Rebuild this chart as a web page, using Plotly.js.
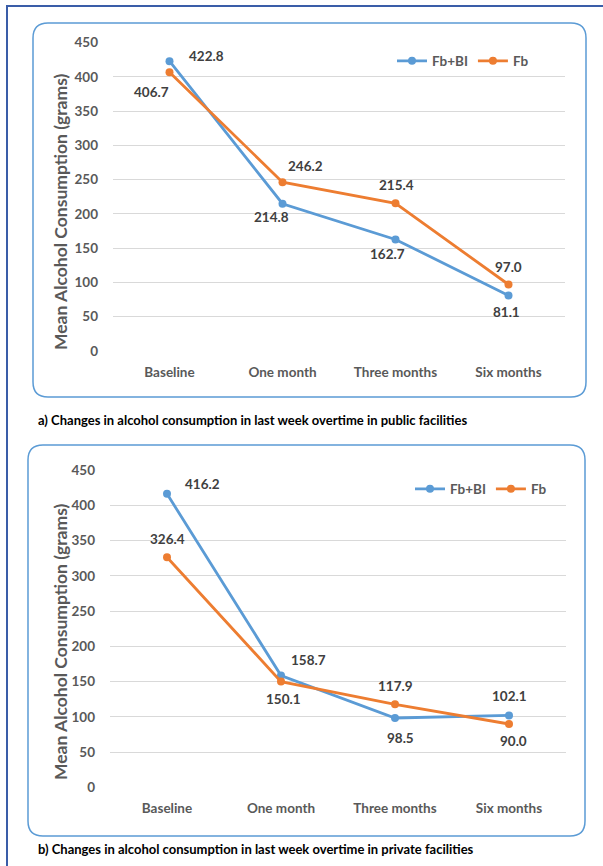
<!DOCTYPE html>
<html>
<head>
<meta charset="utf-8">
<script src="https://cdn.plot.ly/plotly-3.0.1.min.js"></script>
<style>
html,body{margin:0;padding:0;background:#fff;}
#chart{width:603px;height:866px;}
</style>
</head>
<body>
<div id="chart"></div>
<script>
// ---- Data ----
const categories = ['Baseline', 'One month', 'Three months', 'Six months'];
const seriesNames = ['Fb+BI', 'Fb'];
const publicFbBI = [422.8, 214.8, 162.7, 81.1];
const publicFb = [406.7, 246.2, 215.4, 97.0];
const privateFbBI = [416.2, 158.7, 98.5, 102.1];
const privateFb = [326.4, 150.1, 117.9, 90.0];
const yTickVals = [0, 50, 100, 150, 200, 250, 300, 350, 400, 450];
const yTitle = 'Mean Alcohol Consumption (grams)';
const captionA = 'a) Changes in alcohol consumption in last week overtime in public facilities';
const captionB = 'b) Changes in alcohol consumption in last week overtime in private facilities';

// ---- Styling / positions ----
const W = 603, H = 866;
const FONT = 'Lato, "Open Sans", sans-serif';
const blue = '#5B9BD5', orange = '#ED7D31';
const px = x => x / W;
const py = y => 1 - y / H;

// data-label pixel offsets [xshift, yshift]
const offA1 = [[37, 5], [-11, -13], [-8, -15], [-2, -17]];
const offA2 = [[-18, -20], [23, 16], [1, 18], [0, 18]];
const offB1 = [[35, 10], [27, 16], [5, -20], [0, 19]];
const offB2 = [[0, 18], [2, -17], [0, 18], [4, -17]];

function trace(y, name, color, xa, ya, legend) {
  return {
    x: categories, y: y, name: name, type: 'scatter', mode: 'lines+markers',
    xaxis: xa, yaxis: ya, legend: legend, showlegend: true,
    line: {color: color, width: 2.8},
    marker: {color: color, size: 8},
    hoverinfo: 'skip'
  };
}

const data = [
  trace(publicFbBI, seriesNames[0], blue, 'x', 'y', 'legend'),
  trace(publicFb, seriesNames[1], orange, 'x', 'y', 'legend'),
  trace(privateFbBI, seriesNames[0], blue, 'x2', 'y2', 'legend2'),
  trace(privateFb, seriesNames[1], orange, 'x2', 'y2', 'legend2')
];

function labels(vals, offs, xref, yref) {
  return vals.map((v, i) => ({
    x: categories[i], y: v, xref: xref, yref: yref,
    text: v.toFixed(1), showarrow: false, xanchor: 'center', yanchor: 'middle',
    xshift: offs[i][0], yshift: offs[i][1],
    font: {family: FONT, size: 13.5, color: '#404040', weight: 700}
  }));
}

function rr(x0, y0, x1, y1, r) {
  const P = (x, y) => px(x).toFixed(5) + ',' + py(y).toFixed(5);
  return 'M' + P(x0 + r, y0) + ' L' + P(x1 - r, y0) + ' Q' + P(x1, y0) + ' ' + P(x1, y0 + r) +
    ' L' + P(x1, y1 - r) + ' Q' + P(x1, y1) + ' ' + P(x1 - r, y1) +
    ' L' + P(x0 + r, y1) + ' Q' + P(x0, y1) + ' ' + P(x0, y1 - r) +
    ' L' + P(x0, y0 + r) + ' Q' + P(x0, y0) + ' ' + P(x0 + r, y0) + ' Z';
}

const tickFont = {family: FONT, size: 13.5, color: '#595959', weight: 700};
const xaxisBase = {
  type: 'category', range: [-0.5, 3.5], showgrid: false, showline: false, zeroline: false,
  ticks: '', ticklabelstandoff: 11, fixedrange: true, tickfont: tickFont
};
const yaxisBase = {
  range: [0, 450], tickvals: yTickVals, showgrid: true, gridcolor: '#d9d9d9', gridwidth: 1,
  showline: false, zeroline: false, ticks: '', ticklabelstandoff: 14, fixedrange: true,
  tickfont: tickFont
};

const legendBase = {
  orientation: 'h', xanchor: 'left', yanchor: 'middle',
  font: {family: FONT, size: 13.5, color: '#595959', weight: 700},
  bgcolor: 'rgba(0,0,0,0)', itemwidth: 30, tracegroupgap: 0
};

const layout = {
  width: W, height: H, margin: {l: 0, r: 0, t: 0, b: 0},
  paper_bgcolor: '#ffffff', plot_bgcolor: 'rgba(0,0,0,0)',
  xaxis: Object.assign({}, xaxisBase, {domain: [px(113), px(565)], anchor: 'y'}),
  yaxis: Object.assign({}, yaxisBase, {domain: [py(351), py(42.5)], anchor: 'x'}),
  xaxis2: Object.assign({}, xaxisBase, {domain: [px(110), px(566)], anchor: 'y2'}),
  yaxis2: Object.assign({}, yaxisBase, {domain: [py(787.5), py(470)], anchor: 'x2'}),
  legend: Object.assign({}, legendBase, {x: px(392), y: py(61)}),
  legend2: Object.assign({}, legendBase, {x: px(410), y: py(489)}),
  shapes: [
    {type: 'path', xref: 'paper', yref: 'paper', layer: 'below',
     path: 'M' + px(7) + ',0 L' + px(7) + ',' + py(6) + ' L1,' + py(6),
     line: {color: '#3A5DA8', width: 2}},
    {type: 'path', xref: 'paper', yref: 'paper', layer: 'below',
     path: rr(33, 23, 586, 397, 15), line: {color: blue, width: 1.5}},
    {type: 'path', xref: 'paper', yref: 'paper', layer: 'below',
     path: rr(28, 445, 585, 836, 15), line: {color: blue, width: 1.5}}
  ],
  annotations: [].concat(
    labels(publicFbBI, offA1, 'x', 'y'),
    labels(publicFb, offA2, 'x', 'y'),
    labels(privateFbBI, offB1, 'x2', 'y2'),
    labels(privateFb, offB2, 'x2', 'y2'),
    [
      {text: yTitle, xref: 'paper', yref: 'paper', x: px(60), y: py(212), textangle: -90,
       xanchor: 'center', yanchor: 'middle',
       showarrow: false, font: {family: FONT, size: 17.5, color: '#595959', weight: 700}},
      {text: yTitle, xref: 'paper', yref: 'paper', x: px(60), y: py(642), textangle: -90,
       xanchor: 'center', yanchor: 'middle',
       showarrow: false, font: {family: FONT, size: 17.5, color: '#595959', weight: 700}},
      {text: captionA, xref: 'paper', yref: 'paper', x: px(36), y: py(420), xanchor: 'left',
       yanchor: 'middle',
       showarrow: false, font: {family: FONT, size: 13, color: '#000000', weight: 700}},
      {text: captionB, xref: 'paper', yref: 'paper', x: px(36), y: py(849), xanchor: 'left',
       yanchor: 'middle',
       showarrow: false, font: {family: FONT, size: 13, color: '#000000', weight: 700}}
    ]
  )
};

Plotly.newPlot('chart', data, layout, {displayModeBar: false, staticPlot: true});
</script>
</body>
</html>
